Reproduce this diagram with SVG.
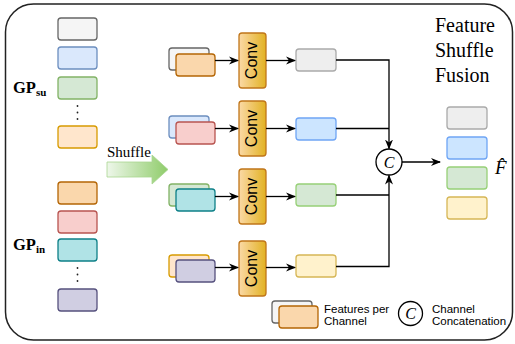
<svg xmlns="http://www.w3.org/2000/svg" width="515" height="344" viewBox="0 0 515 344">
<defs>
<linearGradient id="gConv" x1="0" y1="0" x2="1" y2="0">
<stop offset="0" stop-color="#fbd9a6"/>
<stop offset="1" stop-color="#e2b223"/>
</linearGradient>
<linearGradient id="gArr" x1="0" y1="0" x2="1" y2="0">
<stop offset="0" stop-color="#eef7ea"/>
<stop offset="1" stop-color="#8fcc6a"/>
</linearGradient>
<marker id="ah" viewBox="0 0 10 10" refX="9" refY="5" markerWidth="10" markerHeight="10" markerUnits="userSpaceOnUse" orient="auto">
<path d="M0,1 L10,5 L0,9 L3,5 z" fill="#000"/>
</marker>
<style>
.box{stroke-width:1.3}
.gray{fill:#f5f5f5;stroke:#666666}
.blue{fill:#dae8fc;stroke:#6c8ebf}
.green{fill:#d5e8d4;stroke:#82b366}
.lorange{fill:#ffe6cc;stroke:#d79b00}
.orange{fill:#fad7ac;stroke:#b46504}
.red{fill:#f8cecc;stroke:#b85450}
.teal{fill:#b0e3e6;stroke:#0e8088}
.purple{fill:#d0cee2;stroke:#56517e}
.ogray{fill:#eeeeee;stroke:#aaaaaa}
.oblue{fill:#cce5ff;stroke:#6fa5f5}
.ogreen{fill:#d5e8d4;stroke:#97d077}
.oyellow{fill:#fff2cc;stroke:#d6b656}
.conv{fill:url(#gConv);stroke:#c0761a;stroke-width:1.3}
.convt{font-family:"Liberation Sans",Arial,sans-serif;font-size:16px;fill:#000;text-anchor:middle}
.serif{font-family:"Liberation Serif","Times New Roman",serif;fill:#000}
.sans{font-family:"Liberation Sans",Arial,sans-serif;fill:#000;font-size:11.5px}
.line{fill:none;stroke:#000;stroke-width:1.3}
.dot{fill:#222}
</style>
</defs>
<rect x="5.5" y="4" width="507" height="336" rx="28" fill="#fff" stroke="#222" stroke-width="1.5"/>

<g id="title"><text class="serif" font-size="20" x="435" y="32">Feature</text><text class="serif" font-size="20" x="435" y="57">Shuffle</text><text class="serif" font-size="20" x="435" y="82">Fusion</text></g>

<g id="gpsu">
<rect class="box gray" x="58" y="18" width="39" height="22" rx="3"/>
<rect class="box blue" x="58" y="47" width="39" height="22" rx="3"/>
<rect class="box green" x="58" y="77" width="39" height="22" rx="3"/>
<circle class="dot" cx="77.5" cy="106" r="0.9"/><circle class="dot" cx="77.5" cy="112.5" r="0.9"/><circle class="dot" cx="77.5" cy="119" r="0.9"/>
<rect class="box lorange" x="58" y="126" width="39" height="22" rx="3"/>
<text class="serif" x="13" y="93" font-size="16.5" font-weight="bold">GP<tspan font-size="11" dy="3">su</tspan></text>
</g>

<g id="gpin">
<rect class="box orange" x="58" y="182" width="39" height="22" rx="3"/>
<rect class="box red" x="58" y="211" width="39" height="22" rx="3"/>
<rect class="box teal" x="58" y="239" width="39" height="22" rx="3"/>
<circle class="dot" cx="77.5" cy="268" r="0.9"/><circle class="dot" cx="77.5" cy="274.5" r="0.9"/><circle class="dot" cx="77.5" cy="281" r="0.9"/>
<rect class="box purple" x="58" y="289" width="39" height="22" rx="3"/>
<text class="serif" x="13" y="250" font-size="16.5" font-weight="bold">GP<tspan font-size="11" dy="3">in</tspan></text>
</g>

<g id="shuffle">
<text class="serif" x="107" y="157" font-size="15">Shuffle</text>
<path d="M107,162 L152,162 L152,155 L168,169.5 L152,184 L152,177 L107,177 z" fill="url(#gArr)" stroke="#a8d590" stroke-width="0.8"/>
</g>

<g id="pair1"><rect class="box gray" x="169" y="48" width="40" height="22" rx="3"/><rect class="box orange" x="176" y="54" width="39" height="22" rx="3"/></g>
<g id="pair2"><rect class="box blue" x="169" y="116" width="40" height="22" rx="3"/><rect class="box red" x="176" y="122" width="39" height="22" rx="3"/></g>
<g id="pair3"><rect class="box green" x="169" y="184" width="40" height="22" rx="3"/><rect class="box teal" x="176" y="189" width="39" height="22" rx="3"/></g>
<g id="pair4"><rect class="box lorange" x="169" y="255" width="40" height="22" rx="3"/><rect class="box purple" x="176" y="260" width="39" height="22" rx="3"/></g>

<g id="conv1"><rect class="conv" x="239" y="33" width="27" height="55" rx="3"/><text class="convt" transform="translate(252.5,60.5) rotate(-90)" y="4">Conv</text></g>
<g id="conv2"><rect class="conv" x="239" y="101" width="27" height="55" rx="3"/><text class="convt" transform="translate(252.5,128.5) rotate(-90)" y="4">Conv</text></g>
<g id="conv3"><rect class="conv" x="239" y="169" width="27" height="55" rx="3"/><text class="convt" transform="translate(252.5,196.5) rotate(-90)" y="4">Conv</text></g>
<g id="conv4"><rect class="conv" x="239" y="241" width="27" height="55" rx="3"/><text class="convt" transform="translate(252.5,268.5) rotate(-90)" y="4">Conv</text></g>

<g id="out1"><rect class="box ogray" x="296" y="49" width="40" height="22" rx="3"/></g>
<g id="out2"><rect class="box oblue" x="296" y="118" width="40" height="22" rx="3"/></g>
<g id="out3"><rect class="box ogreen" x="296" y="184" width="40" height="22" rx="3"/></g>
<g id="out4"><rect class="box oyellow" x="296" y="255" width="40" height="22" rx="3"/></g>

<g id="concat"><circle cx="389" cy="162" r="13" fill="#fff" stroke="#000" stroke-width="1.3"/><text class="serif" x="389" y="167.5" font-size="16" font-style="italic" text-anchor="middle">C</text></g>

<g id="fhat">
<rect class="box ogray" x="447" y="107" width="40" height="22" rx="3"/>
<rect class="box oblue" x="447" y="137" width="40" height="22" rx="3"/>
<rect class="box ogreen" x="447" y="167" width="40" height="22" rx="3"/>
<rect class="box oyellow" x="447" y="197" width="40" height="22" rx="3"/>
<text class="serif" x="495" y="174" font-size="19" font-style="italic">F̂</text>
</g>

<g id="legend">
<rect class="box gray" x="272" y="301" width="40" height="22" rx="3"/>
<rect class="box orange" x="279" y="306" width="39" height="22" rx="3"/>
<text class="sans" x="324" y="313">Features per</text>
<text class="sans" x="324" y="325">Channel</text>
<circle cx="410.5" cy="313.5" r="12" fill="#fff" stroke="#000" stroke-width="1.3"/>
<text class="serif" x="410.5" y="319" font-size="16" font-style="italic" text-anchor="middle">C</text>
<text class="sans" x="432" y="313">Channel</text>
<text class="sans" x="432" y="325">Concatenation</text>
</g>

<g id="connectors">
<line class="line" x1="215" y1="60.5" x2="238" y2="60.5" marker-end="url(#ah)"/>
<line class="line" x1="215" y1="128.5" x2="238" y2="128.5" marker-end="url(#ah)"/>
<line class="line" x1="215" y1="196.5" x2="238" y2="196.5" marker-end="url(#ah)"/>
<line class="line" x1="215" y1="267.5" x2="238" y2="267.5" marker-end="url(#ah)"/>
<line class="line" x1="266" y1="60.5" x2="295" y2="60.5" marker-end="url(#ah)"/>
<line class="line" x1="266" y1="128.5" x2="295" y2="128.5" marker-end="url(#ah)"/>
<line class="line" x1="266" y1="196.5" x2="295" y2="196.5" marker-end="url(#ah)"/>
<line class="line" x1="266" y1="267.5" x2="295" y2="267.5" marker-end="url(#ah)"/>
<polyline class="line" points="336,60 389,60 389,148.5" marker-end="url(#ah)"/>
<polyline class="line" points="336,128.5 389,128.5"/>
<polyline class="line" points="336,195 389,195"/>
<polyline class="line" points="336,266.5 389,266.5 389,175.5" marker-end="url(#ah)"/>
<line class="line" x1="402" y1="162" x2="440" y2="162" marker-end="url(#ah)"/>
</g>
</svg>
